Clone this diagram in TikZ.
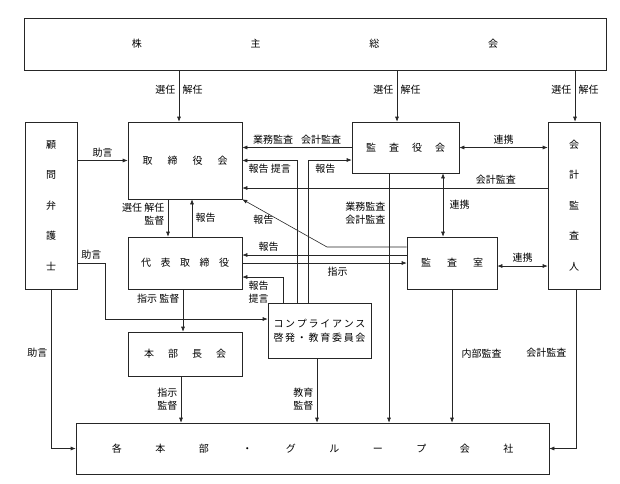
\documentclass[tikz,border=0pt]{standalone}
\usepackage{fontspec}
\setmainfont{Noto Sans CJK JP}
\usepackage{tikz}
\usetikzlibrary{arrows.meta,calc}

% letters of a box title, set apart by a fixed gap
\makeatletter
\newcommand{\spreadtext}[2]{\def\sp@gap{}\@tfor\sp@c:=#2\do{\sp@gap\sp@c\def\sp@gap{\hspace{#1}}}}
\makeatother

\begin{document}
\begin{tikzpicture}[x=1pt, y=-1pt, font=\fontsize{10}{13}\selectfont,
  box/.style={draw=black!85, line width=0.6pt, inner sep=0pt, align=center},
  arr/.style={-{Latex[length=5pt,width=4pt]}, line width=0.6pt, draw=black!85},
  dbl/.style={{Latex[length=5pt,width=4pt]}-{Latex[length=5pt,width=4pt]}, line width=0.6pt, draw=black!85}]
\useasboundingbox (0,0) rectangle (620,483);
\node[box, minimum width=582pt, minimum height=52pt] (sh) at (315,44) {\spreadtext{108.7pt}{株主総会}};
\node[box, minimum width=52pt, minimum height=167pt] (komon) at (51,205.5) {顧\\[17.5pt]問\\[17.5pt]弁\\[17.5pt]護\\[17.5pt]士};
\node[box, minimum width=114pt, minimum height=77pt] (tori) at (185,160.5) {\spreadtext{15pt}{取締役会}};
\node[box, minimum width=114pt, minimum height=52pt] (daihyo) at (185,263) {\spreadtext{9.5pt}{代表取締役}};
\node[box, minimum width=114pt, minimum height=44pt] (honbu) at (185,354) {\spreadtext{14pt}{本部長会}};
\node[box, minimum width=103pt, minimum height=55pt] (comp) at (319.5,330.5) {\spreadtext{1.7pt}{コンプライアンス}\\[1pt]\spreadtext{1.7pt}{啓発・教育委員会}};
\node[box, minimum width=107pt, minimum height=51pt] (kansayaku) at (405.5,147.5) {\spreadtext{13pt}{監査役会}};
\node[box, minimum width=90pt, minimum height=52pt] (kansashitsu) at (452,263) {\spreadtext{16pt}{監査室}};
\node[box, minimum width=52pt, minimum height=167pt] (kaikei) at (574,205.5) {会\\[17.5pt]計\\[17.5pt]監\\[17.5pt]査\\[17.5pt]人};
\node[box, minimum width=473pt, minimum height=51pt] (kaku) at (312.5,448.5) {\spreadtext{33.5pt}{各本部・グループ会社}};
\coordinate (bend) at (327,247);

% from the shareholders' meeting
\draw[arr] ([xshift=-6pt]tori.north |- sh.south) -- ([xshift=-6pt]tori.north)
  node[pos=0.38, left] {選任} node[pos=0.38, right] {解任};
\draw[arr] ([xshift=-8.5pt]kansayaku.north |- sh.south) -- ([xshift=-8.5pt]kansayaku.north)
  node[pos=0.38, left] {選任} node[pos=0.38, right] {解任};
\draw[arr] ([xshift=1pt]kaikei.north |- sh.south) -- ([xshift=1pt]kaikei.north)
  node[pos=0.38, left] {選任} node[pos=0.38, right] {解任};

% into the board
\draw[arr] (komon.east |- tori.west) -- (tori.west) node[midway, above] {助言};
\draw[arr] (kansayaku.west) -- (kansayaku.west -| tori.east)
  node[midway, above] {業務監査\hspace{8pt}会計監査};
\draw[arr] ([xshift=-22.5pt]comp.north) |- (tori.east) node[pos=0.75, below] {報告 提言};
\draw[arr] ([xshift=-11.5pt]comp.north) |- ([yshift=-12.5pt]kansayaku.west) node[pos=0.7, below] {報告};
\draw[arr] ([yshift=17.5pt]kaikei.west) -- ([yshift=17.5pt]kaikei.west -| tori.east)
  node[pos=0.17, above] {会計監査};
\draw[arr] (kansashitsu.west |- bend) -- (bend) -- (tori.south east) node[pos=0.75, below] {報告};

% board and representative director
\draw[arr] ([xshift=-17pt]tori.south) -- ([xshift=-17pt]tori.south |- daihyo.north)
  node[pos=0.4, left, align=right] {選任 解任\\監督};
\draw[arr] ([xshift=7pt]daihyo.north) -- ([xshift=7pt]daihyo.north |- tori.south) node[midway, right] {報告};
\draw[arr] ([yshift=8pt]kansashitsu.west) -- ([yshift=8pt]kansashitsu.west -| daihyo.east)
  node[pos=0.84, above] {報告};
\draw[arr] (daihyo.east) -- (kansashitsu.west) node[pos=0.58, below] {指示};
\draw[arr] ([xshift=-36.5pt]comp.north) |- ([yshift=-14pt]daihyo.east)
  node[pos=0.8, below, align=center] {報告\\提言};

% audit links
\draw[dbl] (kansayaku.east) -- (kansayaku.east -| kaikei.west) node[midway, above] {連携};
\draw[dbl] ([xshift=37.5pt]kansayaku.south) -- ([xshift=37.5pt]kansayaku.south |- kansashitsu.north)
  node[midway, right=3pt] {連携};
\draw[dbl] ([yshift=-3pt]kansashitsu.east) -- ([yshift=-3pt]kansashitsu.east -| kaikei.west)
  node[midway, above] {連携};

% down to the divisions and group companies
\draw[arr] ([yshift=-57.5pt]komon.east) -- ++(28,0) node[midway, above] {助言} |- ([yshift=11.5pt]comp.west);
\draw[arr] (komon.south) |- (kaku.west) node[pos=0.2, left] {助言};
\draw[arr] ([xshift=-2pt]daihyo.south) -- ([xshift=-2pt]daihyo.south |- honbu.north)
  node[pos=0.22, left] {指示 監督};
\draw[arr] ([xshift=-4pt]honbu.south) -- ([xshift=-4pt]honbu.south |- kaku.north)
  node[midway, left, align=right] {指示\\監督};
\draw[arr] ([xshift=-2.5pt]comp.south) -- ([xshift=-2.5pt]comp.south |- kaku.north)
  node[pos=0.63, left, align=right] {教育\\監督};
\draw[arr] ([xshift=-16.5pt]kansayaku.south) -- ([xshift=-16.5pt]kansayaku.south |- kaku.north)
  node[pos=0.16, left, align=right] {業務監査\\会計監査};
\draw[arr] (kansashitsu.south) -- (kansashitsu.south |- kaku.north) node[pos=0.48, right=6pt] {内部監査};
\draw[arr] ([xshift=2pt]kaikei.south) |- (kaku.east) node[pos=0.2, left=6pt] {会計監査};
\end{tikzpicture}
\end{document}
